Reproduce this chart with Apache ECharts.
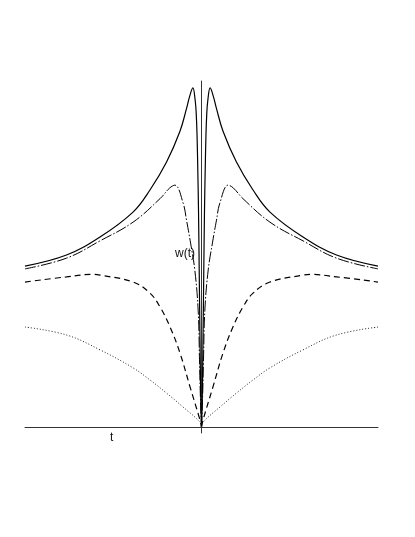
<!DOCTYPE html>
<html>
<head>
<meta charset="utf-8">
<script src="https://cdn.jsdelivr.net/npm/echarts@6/dist/echarts.min.js"></script>
<style>
html,body{margin:0;padding:0;background:#fff;}
#chart{width:415px;height:537px;}
</style>
</head>
<body>
<div id="chart"></div>
<script>
// Solid curve
const tSolid = [-10,-7.65,-5.75,-3.88,-2.92,-1.98,-1.22,-0.85,-0.68,-0.49,-0.36,-0.295,-0.25,-0.21,-0.17,-0.13,-0.085,-0.04,0,
                0.04,0.085,0.13,0.17,0.21,0.25,0.295,0.36,0.49,0.68,0.85,1.22,1.98,2.92,3.88,5.75,7.65,10];
const wSolid = [4.65,4.97,5.49,6.21,6.85,7.66,8.55,9.2,9.54,9.80,9.45,9.02,8.38,7.43,6.27,4.54,2.51,0.78,0,
                0.78,2.51,4.54,6.27,7.43,8.38,9.02,9.45,9.80,9.54,9.2,8.55,7.66,6.85,6.21,5.49,4.97,4.65];
// Dash-dot curve
const tDashDot = [-10,-7.65,-5.75,-3.88,-2.35,-1.80,-1.51,-1.04,-0.85,-0.62,-0.38,-0.19,-0.113,-0.057,0,
                  0.057,0.113,0.19,0.38,0.62,0.85,1.04,1.51,1.80,2.35,3.88,5.75,7.65,10];
const wDashDot = [4.57,4.88,5.38,5.92,6.6,6.91,6.99,6.47,5.98,5.32,4.54,3.38,1.94,0.78,0,
                  0.78,1.94,3.38,4.54,5.32,5.98,6.47,6.99,6.91,6.6,5.92,5.38,4.88,4.57];
// Dashed curve
const tDashed = [-10,-7.65,-6.2,-5.75,-3.88,-2.92,-2.35,-1.78,-1.22,-0.65,-0.085,0,
                 0.085,0.65,1.22,1.78,2.35,2.92,3.88,5.75,6.2,7.65,10];
const wDashed = [4.19,4.34,4.41,4.39,4.19,3.87,3.47,2.89,2.14,1.16,0.2,0,
                 0.2,1.16,2.14,2.89,3.47,3.87,4.19,4.39,4.41,4.34,4.19];
// Dotted curve
const tDotted = [-10,-7.65,-5.75,-3.88,-2.92,-1.98,-1.05,-0.085,0,
                 0.085,1.05,1.98,2.92,3.88,5.75,7.65,10];
const wDotted = [2.89,2.66,2.23,1.71,1.36,0.98,0.58,0.14,0,
                 0.14,0.58,0.98,1.36,1.71,2.23,2.66,2.89];

const xLabel = 't';
const yLabel = 'w(t)';

function halves(ts, ws) {
  const left = [], right = [];
  ts.forEach((t, i) => {
    if (t <= 0) left.push([t, ws[i]]);
    if (t >= 0) right.push([t, ws[i]]);
  });
  return [left, right];
}

const styles = [
  { ts: tSolid, ws: wSolid, line: { color: '#000', width: 1.2, type: 'solid' } },
  { ts: tDashDot, ws: wDashDot, line: { color: '#000', width: 1, type: [11, 2, 1.5, 2] } },
  { ts: tDashed, ws: wDashed, line: { color: '#000', width: 1.2, type: [6, 4] } },
  { ts: tDotted, ws: wDotted, line: { color: '#222', width: 1, type: [1, 2] } }
];

const series = [];
styles.forEach(s => {
  halves(s.ts, s.ws).forEach(d => {
    series.push({
      type: 'line',
      data: d,
      showSymbol: false,
      smooth: 0.4,
      lineStyle: s.line,
      silent: true,
      z: 3
    });
  });
});

const chart = echarts.init(document.getElementById('chart'), null, { renderer: 'canvas' });
chart.setOption({
  animation: false,
  backgroundColor: '#fff',
  grid: { left: 25, right: 37, top: 81, bottom: 104 },
  xAxis: {
    type: 'value', min: -10, max: 10,
    axisLine: { show: true, onZero: true, lineStyle: { color: '#333', width: 1 } },
    axisTick: { show: false }, axisLabel: { show: false }, splitLine: { show: false }
  },
  yAxis: {
    type: 'value', min: -0.173, max: 10,
    axisLine: { show: true, onZero: true, lineStyle: { color: '#333', width: 1 } },
    axisTick: { show: false }, axisLabel: { show: false }, splitLine: { show: false }
  },
  graphic: [
    { type: 'text', left: 175, top: 248, style: { text: yLabel, font: '12px "Liberation Sans", Arial, sans-serif', fill: '#111' } },
    { type: 'text', left: 110, top: 432, style: { text: xLabel, font: '12px "Liberation Sans", Arial, sans-serif', fill: '#111' } }
  ],
  series: series
});
</script>
</body>
</html>
